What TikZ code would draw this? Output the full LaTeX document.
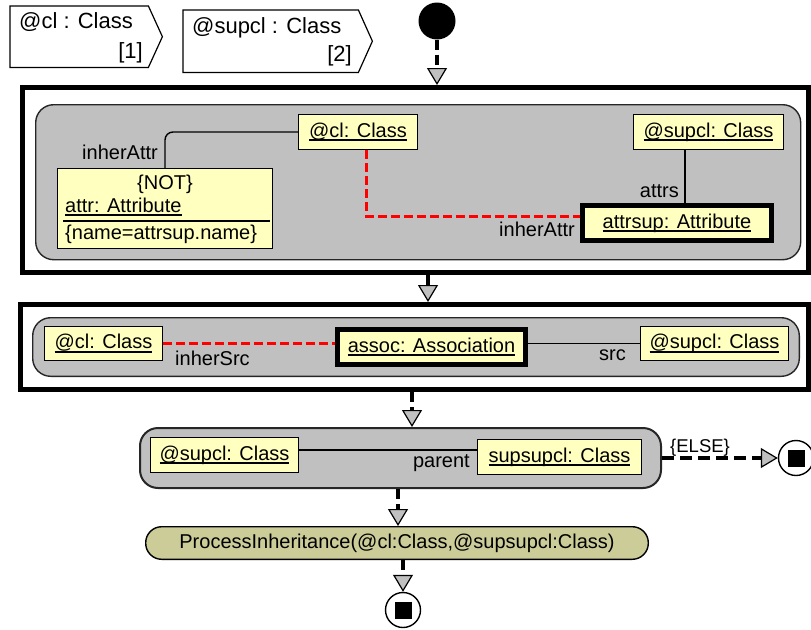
\documentclass[tikz,border=0pt]{standalone}
\usepackage{fontspec}
\setmainfont{Liberation Sans}
\usetikzlibrary{arrows.meta,calc}
\definecolor{objyellow}{RGB}{255,255,192}
\definecolor{groupgray}{RGB}{192,192,192}
\definecolor{tipgray}{RGB}{192,192,192}
\definecolor{actionkhaki}{RGB}{204,204,153}
\definecolor{linkred}{RGB}{255,0,0}
\newlength\ulwidth
% underlined object name, rule set a little below the baseline
\newcommand\ulobj[1]{\settowidth\ulwidth{#1}\rlap{\rule[-4pt]{\ulwidth}{1.8pt}}#1}

\begin{document}
\begin{tikzpicture}[x=1pt,y=-1pt,
  every node/.style={font=\fontsize{20}{24}\selectfont},
  txt/.style={inner sep=0pt},
  obj/.style={draw=black, line width=1.4pt, fill=objyellow, anchor=north west,
    inner sep=0pt, text height=15pt, text depth=5pt},
  objbold/.style={obj, line width=5pt},
  frame/.style={draw=black, line width=5pt, fill=white, anchor=north west, inner sep=0pt},
  group/.style={draw=black!85, line width=1.4pt, fill=groupgray, rounded corners=18pt,
    anchor=north west, inner sep=0pt},
  final/.style={circle, draw=black, line width=1.4pt, fill=white, minimum size=35pt, inner sep=0pt},
  finalsq/.style={fill=black, minimum size=17pt, inner sep=0pt},
  link/.style={line width=1.4pt},
  redlink/.style={draw=linkred, line width=3pt, dash pattern=on 9pt off 4pt},
  flow/.style={line width=4pt, -{Triangle[length=17pt,width=20pt,line width=1.2pt,fill=tipgray]}},
  flowdash/.style={flow, dash pattern=on 10pt off 5pt},
  flowelse/.style={flow, dash pattern=on 12pt off 6pt},
]
\useasboundingbox (0,0) rectangle (811,629);

% ---- parameters ----
\node[anchor=north west, minimum width=138pt, minimum height=61pt, inner sep=0pt] (par1) at (10,6) {};
\draw[line width=1.2pt] (par1.north west) -- (par1.north east) -- ($(par1.east)+(14,0)$)
  -- (par1.south east) -- (par1.south west) -- cycle;
\node[txt, anchor=base west, font=\fontsize{22}{26}\selectfont] (par1name) at (19,28) {@cl : Class};
\node[txt, anchor=base east, font=\fontsize{22}{26}\selectfont] (par1idx) at (143,58) {[1]};

\node[anchor=north west, minimum width=175pt, minimum height=62pt, inner sep=0pt] (par2) at (183,10) {};
\draw[line width=1.2pt] (par2.north west) -- (par2.north east) -- ($(par2.east)+(14,0)$)
  -- (par2.south east) -- (par2.south west) -- cycle;
\node[txt, anchor=base west, font=\fontsize{22}{26}\selectfont] (par2name) at (192,33) {@supcl : Class};
\node[txt, anchor=base east, font=\fontsize{22}{26}\selectfont] (par2idx) at (352,61) {[2]};

% ---- start ----
\node[circle, fill=black, minimum size=37pt, inner sep=0pt] (start) at (437,21) {};

% ---- first story pattern ----
\node[frame, minimum width=786pt, minimum height=185pt] (frame1) at (20,85) {};
\node[group, minimum width=765pt, minimum height=155pt] (grp1) at (35,104) {};
\node[obj, minimum width=118.6pt, minimum height=34.6pt] (cl1) at (298,114) {\ulobj{@cl: Class}};
\node[obj, minimum width=149.6pt, minimum height=34.6pt] (supcl1) at (633,114) {\ulobj{@supcl: Class}};
\node[obj, minimum width=214.6pt, minimum height=79.6pt] (attr) at (57,168) {};
\node[txt, anchor=base] (attrnot) at (165,189) {\{NOT\}};
\node[txt, anchor=base west] (attrname) at (65,212) {\ulobj{attr: Attribute}};
\draw[link] ($(attr.north west)+(6,53)$) -- ($(attr.north east)+(-3,53)$);
\node[txt, anchor=base west] (attrcons) at (65,239) {\{name=attrsup.name\}};
\node[objbold, minimum width=189pt, minimum height=35pt] (attrsup) at (580,203) {\ulobj{attrsup: Attribute}};

\draw[link, rounded corners=8pt] (attr.north) |- (cl1.west);
\node[txt, anchor=base east] (lblinher1) at (158,159) {inherAttr};
\draw[redlink] ($(cl1.south)+(8,0)$) |- ($(attrsup.west)+(0,-7)$);
\coordinate (attrsx) at (685,0);
\draw[link] (supcl1.south -| attrsx) -- (attrsup.north -| attrsx);
\node[txt, anchor=base east] (lblattrs) at (679,197) {attrs};
\node[txt, anchor=base east] (lblinher2) at (575,236) {inherAttr};

% ---- second story pattern ----
\node[frame, minimum width=788pt, minimum height=85pt] (frame2) at (18,302) {};
\node[group, minimum width=766.6pt, minimum height=58.6pt] (grp2) at (32,317) {};
\node[obj, minimum width=117.6pt, minimum height=33.6pt] (cl2) at (44,326) {\ulobj{@cl: Class}};
\node[objbold, minimum width=188pt, minimum height=35pt] (assoc) at (335,327) {\ulobj{assoc: Association}};
\node[obj, minimum width=147.6pt, minimum height=33.6pt] (supcl2) at (640,326) {\ulobj{@supcl: Class}};
\draw[redlink] (cl2.east) -- (cl2.east -| assoc.west);
\draw[link] (assoc.east |- supcl2.west) -- (supcl2.west);
\node[txt, anchor=base west] (lblinhsrc) at (175,365) {inherSrc};
\node[txt, anchor=base east] (lblsrc) at (626,360) {src};

% ---- third story pattern ----
\node[group, line width=2pt, minimum width=521pt, minimum height=60pt] (grp3) at (139,427) {};
\node[obj, minimum width=147.6pt, minimum height=34.6pt] (supcl3) at (150,437) {\ulobj{@supcl: Class}};
\node[obj, minimum width=163.6pt, minimum height=34.6pt] (supsupcl) at (477,439) {\ulobj{supsupcl: Class}};
\coordinate (parentstart) at ($(supcl3.east)+(0,-5)$);
\draw[link] (parentstart) -- (parentstart -| supsupcl.west);
\node[txt, anchor=base east] (lblparent) at (470,467) {parent};

% ---- action and final states ----
\node[draw=black, line width=1.4pt, fill=actionkhaki, rounded corners=16pt, anchor=north west,
  minimum width=502.6pt, minimum height=32.6pt, inner sep=0pt] (action) at (145,526)
  {ProcessInheritance(@cl:Class,@supsupcl:Class)};
\node[final] (fin1) at (796,458) {};
\node[finalsq] (fin1sq) at (fin1.center) {};
\node[final] (fin2) at (403,610) {};
\node[finalsq] (fin2sq) at (fin2.center) {};

% ---- control flow ----
\draw[flowdash] (start) -- (start |- frame1.north);
\coordinate (f12) at (428,0);
\draw[flow] (frame1.south -| f12) -- (frame2.north -| f12);
\coordinate (f23) at (412,0);
\draw[flowdash] (frame2.south -| f23) -- (grp3.north -| f23);
\coordinate (f3a) at (398,0);
\draw[flowdash] (grp3.south -| f3a) -- (action.north -| f3a);
\draw[flowdash] (action.south -| fin2) -- (fin2.north);
\draw[flowelse] (grp3.east) -- (fin1.west);
\node[txt, anchor=base west, font=\fontsize{18.5}{22}\selectfont] (lblelse) at (670,452) {\{ELSE\}};
\end{tikzpicture}
\end{document}
